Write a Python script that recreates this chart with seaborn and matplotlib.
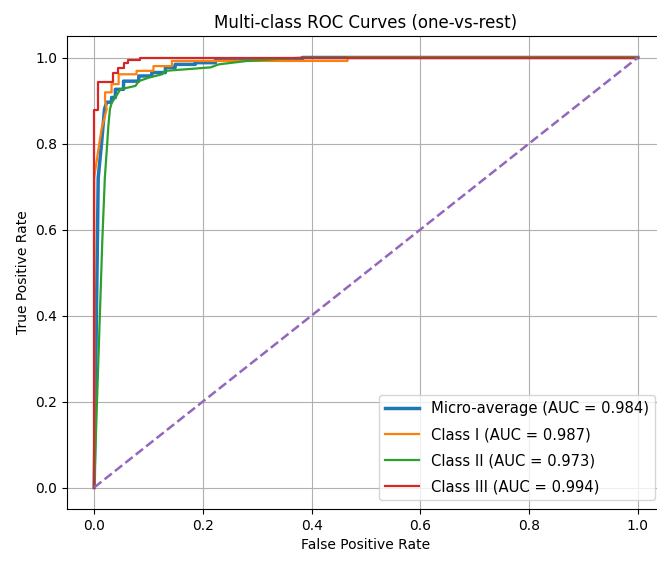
import numpy as np
import pandas as pd
import matplotlib
matplotlib.use("Agg")
import matplotlib.pyplot as plt
import seaborn as sns

# ROC curve points
micro_fpr = [0.0, 0.006, 0.0074, 0.0135, 0.019, 0.023, 0.032, 0.032, 0.039, 0.039, 0.054, 0.054, 0.082, 0.082, 0.106, 0.106, 0.131, 0.131, 0.149, 0.149, 0.186, 0.186, 0.223, 0.223, 0.383, 0.383, 1.0]
micro_tpr = [0.0, 0.58, 0.72, 0.80, 0.88, 0.896, 0.896, 0.907, 0.907, 0.926, 0.926, 0.945, 0.945, 0.957, 0.957, 0.965, 0.965, 0.977, 0.977, 0.984, 0.984, 0.988, 0.988, 0.994, 0.994, 1.0, 1.0]

c1_fpr = [0.0, 0.0, 0.007, 0.0135, 0.023, 0.02, 0.02, 0.032, 0.032, 0.045, 0.045, 0.078, 0.078, 0.109, 0.109, 0.143, 0.143, 0.466, 0.466, 1.0]
c1_tpr = [0.0, 0.72, 0.78, 0.833, 0.88, 0.90, 0.919, 0.919, 0.938, 0.938, 0.961, 0.961, 0.969, 0.969, 0.98, 0.98, 0.992, 0.992, 1.0, 1.0]

c2_fpr = [0.0, 0.015, 0.0196, 0.024, 0.026, 0.029, 0.0325, 0.0325, 0.039, 0.039, 0.048, 0.048, 0.076, 0.076, 0.082, 0.082, 0.10, 0.10, 0.125, 0.125, 0.131, 0.131, 0.214, 0.214, 0.229, 0.229, 0.281, 0.281, 0.386, 0.386, 1.0]
c2_tpr = [0.0, 0.576, 0.72, 0.80, 0.84, 0.88, 0.896, 0.896, 0.907, 0.907, 0.926, 0.926, 0.934, 0.934, 0.945, 0.945, 0.953, 0.953, 0.961, 0.961, 0.969, 0.969, 0.977, 0.977, 0.984, 0.984, 0.992, 0.992, 1.0, 1.0, 1.0]

c3_fpr = [0.0, 0.0, 0.007, 0.007, 0.034, 0.034, 0.044, 0.044, 0.054, 0.054, 0.063, 0.063, 0.084, 0.084, 1.0]
c3_tpr = [0.0, 0.878, 0.878, 0.943, 0.943, 0.965, 0.965, 0.976, 0.976, 0.987, 0.987, 0.994, 0.994, 1.0, 1.0]

labels = ["Micro-average (AUC = 0.984)", "Class I (AUC = 0.987)",
          "Class II (AUC = 0.973)", "Class III (AUC = 0.994)"]
colors = ["#1f77b4", "#ff7f0e", "#2ca02c", "#d62728"]
widths = [2.5, 1.6, 1.6, 1.6]

curves = [(micro_fpr, micro_tpr), (c1_fpr, c1_tpr), (c2_fpr, c2_tpr), (c3_fpr, c3_tpr)]

fig = plt.figure(figsize=(6.57, 5.61), dpi=100)
ax = fig.add_axes([67 / 657, 52 / 561, (665 - 67) / 657, (509 - 36) / 561])

for (fpr, tpr), lab, col, lw in zip(curves, labels, colors, widths):
    df = pd.DataFrame({"fpr": fpr, "tpr": tpr})
    sns.lineplot(data=df, x="fpr", y="tpr", sort=False, estimator=None,
                 color=col, linewidth=lw, label=lab, ax=ax)

diag = pd.DataFrame({"fpr": [0.0, 1.0], "tpr": [0.0, 1.0]})
sns.lineplot(data=diag, x="fpr", y="tpr", sort=False, estimator=None,
             color="#9467bd", linestyle="--", linewidth=1.8, ax=ax)

ax.set_xlim(-0.05, 1.05)
ax.set_ylim(-0.05, 1.05)
ax.set_xticks([0.0, 0.2, 0.4, 0.6, 0.8, 1.0])
ax.set_yticks([0.0, 0.2, 0.4, 0.6, 0.8, 1.0])
ax.grid(True)
ax.set_axisbelow(True)
ax.set_xlabel("False Positive Rate")
ax.set_ylabel("True Positive Rate")
ax.set_title("Multi-class ROC Curves (one-vs-rest)", fontsize=12)
ax.legend(loc="lower right", bbox_to_anchor=(0.983, 0.019), borderaxespad=0,
          fontsize=10.6, labelspacing=0.75, handlelength=2.3)

fig.savefig("out.png", dpi=100)
